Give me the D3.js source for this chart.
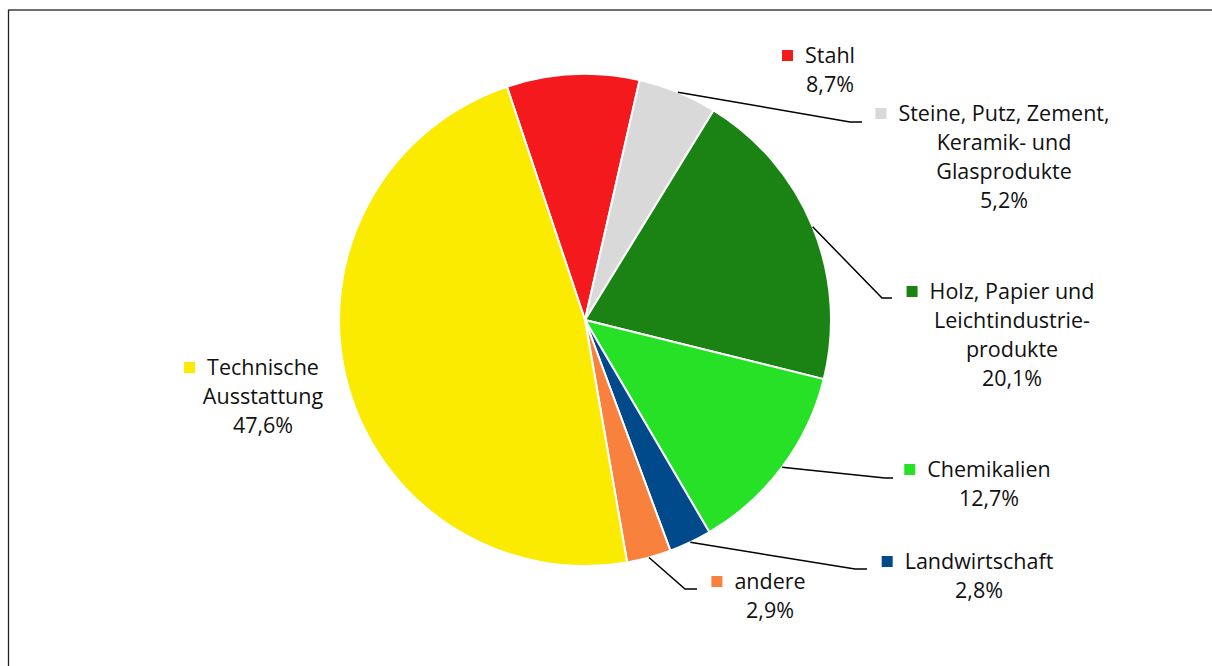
<!DOCTYPE html>
<html><head><meta charset="utf-8">
<script src="https://cdn.jsdelivr.net/npm/d3@7"></script>
<style>body{margin:0;background:#fff;}svg{display:block;}</style>
</head><body>
<svg id="c" width="1212" height="666"></svg>
<script>
const categories = ["Stahl","Steine, Putz, Zement, Keramik- und Glasprodukte","Holz, Papier und Leichtindustrieprodukte","Chemikalien","Landwirtschaft","andere","Technische Ausstattung"];
const values = [8.7, 5.2, 20.1, 12.7, 2.8, 2.9, 47.6];
const valueLabels = ["8,7%","5,2%","20,1%","12,7%","2,8%","2,9%","47,6%"];
const labelLines = [["Stahl"],["Steine, Putz, Zement,","Keramik- und","Glasprodukte"],["Holz, Papier und","Leichtindustrie-","produkte"],["Chemikalien"],["Landwirtschaft"],["andere"],["Technische","Ausstattung"]];
const colors = ["#f4191c","#d9d9d9","#1a8314","#27e127","#004a8b","#f8813e","#fbeb00"];

// layout (styles / positions)
const cx = 585, cy = 320, R = 246;
const labelPos = [
  {cx:830, y:55, leader:null},
  {cx:1004, y:113, leader:[850,122,862]},
  {cx:1012, y:291, leader:[882,298,892]},
  {cx:989, y:469, leader:[885,478,893]},
  {cx:979, y:561, leader:[855,569,867]},
  {cx:770, y:581, leader:[685,589,697]},
  {cx:263, y:367, leader:null}
];
const lineH = 29.3;
const font = "'Open Sans', sans-serif";
const fs = 21.5;

const svg = d3.select("#c");
// frame
svg.append("line").attr("x1",8).attr("x2",1212).attr("y1",10).attr("y2",10).attr("stroke","#6e6e6e").attr("stroke-width",2);
svg.append("line").attr("x1",8.5).attr("x2",8.5).attr("y1",10).attr("y2",666).attr("stroke","#222").attr("stroke-width",1.3);

const pie = d3.pie().sort(null).value(d=>d).startAngle(-18.5*Math.PI/180).endAngle(2*Math.PI-18.5*Math.PI/180);
const arcs = pie(values);
const arc = d3.arc().innerRadius(0).outerRadius(R);
const g = svg.append("g").attr("transform",`translate(${cx},${cy})`);
g.selectAll("path").data(arcs).join("path").attr("d",arc).attr("fill",(d,i)=>colors[i]).attr("stroke","#fff").attr("stroke-width",2).attr("stroke-linejoin","round");

// leader lines
arcs.forEach((a,i)=>{
  const L = labelPos[i].leader; if(!L) return;
  const m = (a.startAngle+a.endAngle)/2;
  const px = cx + R*Math.sin(m), py = cy - R*Math.cos(m);
  svg.append("polyline").attr("points",`${px},${py} ${L[0]},${L[1]} ${L[2]},${L[1]}`).attr("fill","none").attr("stroke","#000").attr("stroke-width",1.5);
});

// labels
arcs.forEach((a,i)=>{
  const P = labelPos[i];
  const lines = labelLines[i].concat([valueLabels[i]]);
  const tg = svg.append("g");
  lines.forEach((t,k)=>{
    tg.append("text").attr("x",P.cx).attr("y",P.y + k*lineH).attr("dy","0.35em").attr("text-anchor","middle")
      .attr("font-family",font).attr("font-size",fs).attr("fill","#111").text(t);
  });
  const first = tg.select("text").node();
  const bb = first.getBBox();
  svg.append("rect").attr("x",bb.x-23).attr("y",P.y-5).attr("width",11).attr("height",11).attr("fill",colors[i]);
});
</script>
</body></html>
